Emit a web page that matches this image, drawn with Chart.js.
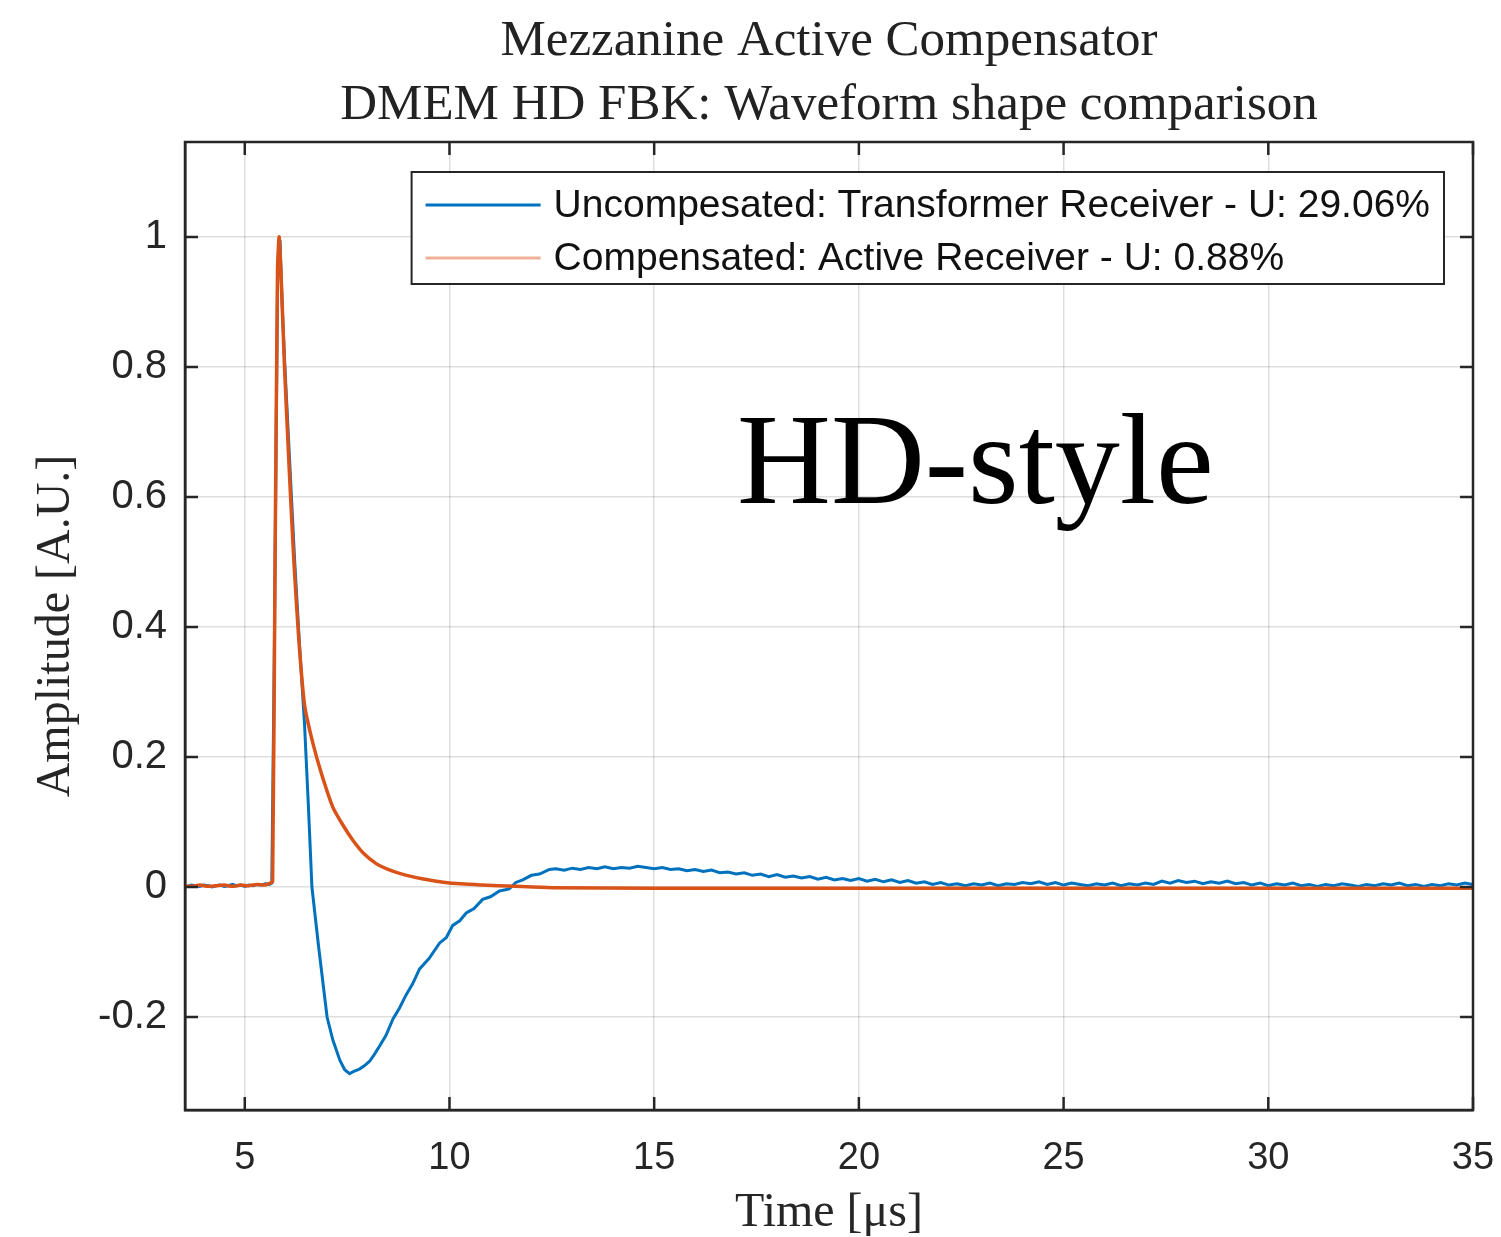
<!DOCTYPE html>
<html>
<head>
<meta charset="utf-8">
<script src="https://cdn.jsdelivr.net/npm/chart.js@4.4.0/dist/chart.umd.min.js"></script>
<style>
  html, body { margin: 0; padding: 0; background: #fff; }
</style>
</head>
<body>
<canvas id="grafico-forma" width="1501" height="1237"></canvas>
<script>
// Textos do gráfico
const titulo = ['Mezzanine Active Compensator', 'DMEM HD FBK: Waveform shape comparison'];
const rotulos = ['Uncompesated: Transformer Receiver - U: 29.06%', 'Compensated: Active Receiver - U: 0.88%'];
const tituloX = 'Time [μs]';
const tituloY = 'Amplitude [A.U.]';
const anotacao = 'HD-style';

// Sinal sem compensação (receptor com transformador)
const tempoAzul = [
  3.5, 3.6, 3.7, 3.8, 3.9, 4.0, 4.1, 4.2, 4.3, 4.4, 4.5, 4.6, 4.7, 4.8, 4.9,
  5.0, 5.1, 5.2, 5.3, 5.4, 5.5, 5.6,
  5.66, 5.72, 5.80, 5.86, 5.91, 5.98, 6.10, 6.22, 6.34, 6.46, 6.55, 6.64, 6.80,
  7.01, 7.15, 7.32, 7.44, 7.56, 7.68, 7.80, 7.92, 8.05, 8.17, 8.29, 8.45, 8.62,
  8.78, 8.94, 9.10, 9.27, 9.50, 9.76, 9.92, 10.08, 10.25, 10.41, 10.60, 10.81,
  11.00, 11.22, 11.46, 11.62, 11.79, 12.00, 12.20, 12.44,
  12.6, 12.8,
  13.0, 13.2, 13.4, 13.6, 13.8,
  14.0, 14.2, 14.4, 14.6, 14.8,
  15.0, 15.2, 15.4, 15.6, 15.8,
  16.0, 16.2, 16.4, 16.6, 16.8,
  17.0, 17.2, 17.4, 17.6, 17.8,
  18.0, 18.2, 18.4, 18.6, 18.8,
  19.0, 19.2, 19.4, 19.6, 19.8,
  20.0, 20.2, 20.4, 20.6, 20.8,
  21.0, 21.2, 21.4, 21.6, 21.8,
  22.0, 22.2, 22.4, 22.6, 22.8,
  23.0, 23.2, 23.4, 23.6, 23.8,
  24.0, 24.2, 24.4, 24.6, 24.8,
  25.0, 25.2, 25.4, 25.6, 25.8,
  26.0, 26.2, 26.4, 26.6, 26.8,
  27.0, 27.2, 27.4, 27.6, 27.8,
  28.0, 28.2, 28.4, 28.6, 28.8,
  29.0, 29.2, 29.4, 29.6, 29.8,
  30.0, 30.2, 30.4, 30.6, 30.8,
  31.0, 31.2, 31.4, 31.6, 31.8,
  32.0, 32.2, 32.4, 32.6, 32.8,
  33.0, 33.2, 33.4, 33.6, 33.8,
  34.0, 34.2, 34.4, 34.6, 34.8,
  35.0
];
const ampAzul = [
  0.002, 0.001, 0.003, 0.002, 0.001, 0.003, 0.002, 0.000, 0.002, 0.003, 0.001, 0.002, 0.004, 0.002, 0.003,
  0.001, 0.003, 0.002, 0.004, 0.003, 0.005, 0.004,
  0.006, 0.35, 0.93, 0.995, 0.90, 0.80, 0.65, 0.50, 0.37, 0.25, 0.13, 0.0, -0.09,
  -0.20, -0.235, -0.266, -0.281, -0.287, -0.283, -0.280, -0.275, -0.268, -0.257, -0.245, -0.228, -0.203,
  -0.186, -0.166, -0.149, -0.126, -0.110, -0.086, -0.078, -0.059, -0.052, -0.040, -0.033, -0.019,
  -0.015, -0.006, -0.003, 0.007, 0.011, 0.018, 0.020, 0.027,
  0.028, 0.026,
  0.029, 0.027, 0.030, 0.028, 0.031,
  0.028, 0.030, 0.029, 0.032, 0.030,
  0.028, 0.030, 0.027, 0.028, 0.025,
  0.027, 0.024, 0.026, 0.022, 0.023,
  0.020, 0.022, 0.018, 0.020, 0.016,
  0.019, 0.015, 0.017, 0.014, 0.016,
  0.012, 0.015, 0.011, 0.013, 0.010,
  0.013, 0.009, 0.012, 0.008, 0.011,
  0.007, 0.010, 0.006, 0.008, 0.004,
  0.007, 0.003, 0.005, 0.002, 0.005,
  0.003, 0.006, 0.002, 0.005, 0.004,
  0.007, 0.005, 0.008, 0.004, 0.007,
  0.003, 0.006, 0.004, 0.002, 0.005,
  0.003, 0.006, 0.002, 0.005, 0.003,
  0.006, 0.004, 0.009, 0.006, 0.010,
  0.007, 0.009, 0.005, 0.008, 0.006,
  0.009, 0.005, 0.007, 0.003, 0.006,
  0.002, 0.005, 0.003, 0.006, 0.002,
  0.004, 0.001, 0.004, 0.002, 0.005,
  0.003, 0.001, 0.004, 0.002, 0.005,
  0.003, 0.006, 0.002, 0.004, 0.001,
  0.004, 0.002, 0.005, 0.003, 0.006,
  0.004
];

// Sinal compensado (receptor ativo)
const tempoLaranja = [
  3.5, 3.7, 3.9, 4.1, 4.3, 4.5, 4.7, 4.9, 5.1, 5.3, 5.5, 5.62, 5.68, 5.74, 5.80,
  5.84, 5.90, 5.97, 6.08, 6.20, 6.32, 6.46, 6.66, 6.87, 7.15, 7.40, 7.64, 7.90,
  8.21, 8.50, 8.78, 9.30, 10.0, 10.8, 11.6, 12.5, 15, 20, 25, 30, 35
];
const ampLaranja = [
  0.002, 0.001, 0.003, 0.001, 0.002, 0.003, 0.001, 0.003, 0.002, 0.004, 0.003, 0.006, 0.008, 0.5, 0.95,
  1.0, 0.92, 0.80, 0.65, 0.50, 0.38, 0.28, 0.222, 0.175, 0.123, 0.095, 0.072, 0.052,
  0.036, 0.027, 0.021, 0.013, 0.006, 0.003, 0.001, -0.001, -0.002, -0.002, -0.002, -0.002, -0.002
];

const corAzul = '#0072BD';
const corLaranja = '#D95319';

// Títulos em cima e anotação "HD-style"
const textosPlugin = {
  id: 'textos',
  afterDraw(chart) {
    const { ctx, chartArea: a } = chart;
    const cx = (a.left + a.right) / 2;
    ctx.save();
    ctx.fillStyle = '#222';
    ctx.font = '51px "Liberation Serif"';
    ctx.textAlign = 'center';
    ctx.textBaseline = 'alphabetic';
    ctx.fillText(titulo[0], cx, 55);
    ctx.fillText(titulo[1], cx, 119);

    ctx.fillStyle = '#000';
    ctx.font = '130px "Liberation Serif"';
    ctx.textAlign = 'left';
    ctx.fillText(anotacao, 737, 503);
    ctx.restore();
  }
};

// Caixa fechada com marcas de escala para dentro (estilo MATLAB)
const molduraPlugin = {
  id: 'moldura',
  afterDatasetsDraw(chart) {
    const { ctx, chartArea: a, scales: { x, y } } = chart;
    const tam = 13;
    ctx.save();
    ctx.strokeStyle = '#262626';
    ctx.lineWidth = 2.5;
    ctx.strokeRect(a.left, a.top, a.right - a.left, a.bottom - a.top);
    ctx.beginPath();
    x.ticks.forEach(t => {
      const px = x.getPixelForValue(t.value);
      ctx.moveTo(px, a.bottom); ctx.lineTo(px, a.bottom - tam);
      ctx.moveTo(px, a.top); ctx.lineTo(px, a.top + tam);
    });
    y.ticks.forEach(t => {
      const py = y.getPixelForValue(t.value);
      ctx.moveTo(a.left, py); ctx.lineTo(a.left + tam, py);
      ctx.moveTo(a.right, py); ctx.lineTo(a.right - tam, py);
    });
    ctx.stroke();
    ctx.restore();
  }
};

// Legenda dentro da área, canto superior direito
const legendaPlugin = {
  id: 'legenda',
  afterDatasetsDraw(chart) {
    const { ctx, chartArea: a } = chart;
    const sets = chart.data.datasets;
    ctx.save();
    ctx.font = '39px "Liberation Sans"';
    const largTexto = Math.max(...sets.map(d => ctx.measureText(d.label).width));
    const w = 14 + 115 + 13 + largTexto + 14;
    const h = 112;
    const x0 = a.right - 29 - w;
    const y0 = a.top + 30;
    ctx.fillStyle = '#fff';
    ctx.fillRect(x0, y0, w, h);
    ctx.strokeStyle = '#262626';
    ctx.lineWidth = 2;
    ctx.strokeRect(x0, y0, w, h);
    sets.forEach((d, i) => {
      const yy = y0 + 33 + i * 53;
      ctx.strokeStyle = d.corLegenda || d.borderColor;
      ctx.lineWidth = 3;
      ctx.beginPath();
      ctx.moveTo(x0 + 14, yy);
      ctx.lineTo(x0 + 129, yy);
      ctx.stroke();
      ctx.fillStyle = '#111';
      ctx.textAlign = 'left';
      ctx.textBaseline = 'middle';
      ctx.fillText(d.label, x0 + 142, yy + 1);
    });
    ctx.restore();
  }
};

const ctx = document.getElementById('grafico-forma').getContext('2d');

new Chart(ctx, {
  type: 'line',
  data: {
    datasets: [
      {
        label: rotulos[0],
        data: tempoAzul.map((t, i) => ({ x: t, y: ampAzul[i] })),
        borderColor: corAzul,
        borderWidth: 3,
        pointRadius: 0,
        tension: 0,
        order: 2
      },
      {
        label: rotulos[1],
        data: tempoLaranja.map((t, i) => ({ x: t, y: ampLaranja[i] })),
        borderColor: corLaranja,
        corLegenda: 'rgba(217, 83, 25, 0.45)',
        borderWidth: 3.5,
        pointRadius: 0,
        tension: 0.2,
        order: 1
      }
    ]
  },
  options: {
    responsive: false,
    animation: false,
    devicePixelRatio: 1,
    layout: { padding: { top: 142, right: 28, left: 0, bottom: 0 } },
    plugins: {
      legend: { display: false },
      title: { display: false },
      tooltip: { enabled: false }
    },
    scales: {
      x: {
        type: 'linear',
        min: 3.54,
        max: 35,
        ticks: {
          stepSize: 5,
          includeBounds: false,
          color: '#262626',
          font: { family: 'Liberation Sans', size: 38 },
          padding: 26,
          maxRotation: 0
        },
        grid: { color: 'rgba(0,0,0,0.13)', lineWidth: 1.5, drawTicks: false },
        border: { color: '#262626', width: 2.5 },
        title: {
          display: true,
          text: tituloX,
          color: '#262626',
          font: { family: 'Liberation Serif', size: 48, lineHeight: 1.0 },
          padding: { top: 0, bottom: 0 }
        },
        afterFit(s) {
          s.height = 127;
          s.paddingLeft = 0;
          s.paddingRight = 0;
        }
      },
      y: {
        type: 'linear',
        min: -0.343,
        max: 1.146,
        ticks: {
          stepSize: 0.2,
          includeBounds: false,
          color: '#262626',
          font: { family: 'Liberation Sans', size: 40 },
          padding: 18,
          callback: v => String(Number(v.toFixed(1)))
        },
        grid: { color: 'rgba(0,0,0,0.13)', lineWidth: 1.5, drawTicks: false },
        border: { color: '#262626', width: 2.5 },
        title: {
          display: true,
          text: tituloY,
          color: '#262626',
          font: { family: 'Liberation Serif', size: 48 },
          padding: { top: 28, bottom: 0 }
        },
        afterFit(s) {
          s.width = 185;
          s.paddingTop = 0;
          s.paddingBottom = 0;
        }
      }
    }
  },
  plugins: [molduraPlugin, legendaPlugin, textosPlugin]
});
</script>
</body>
</html>
